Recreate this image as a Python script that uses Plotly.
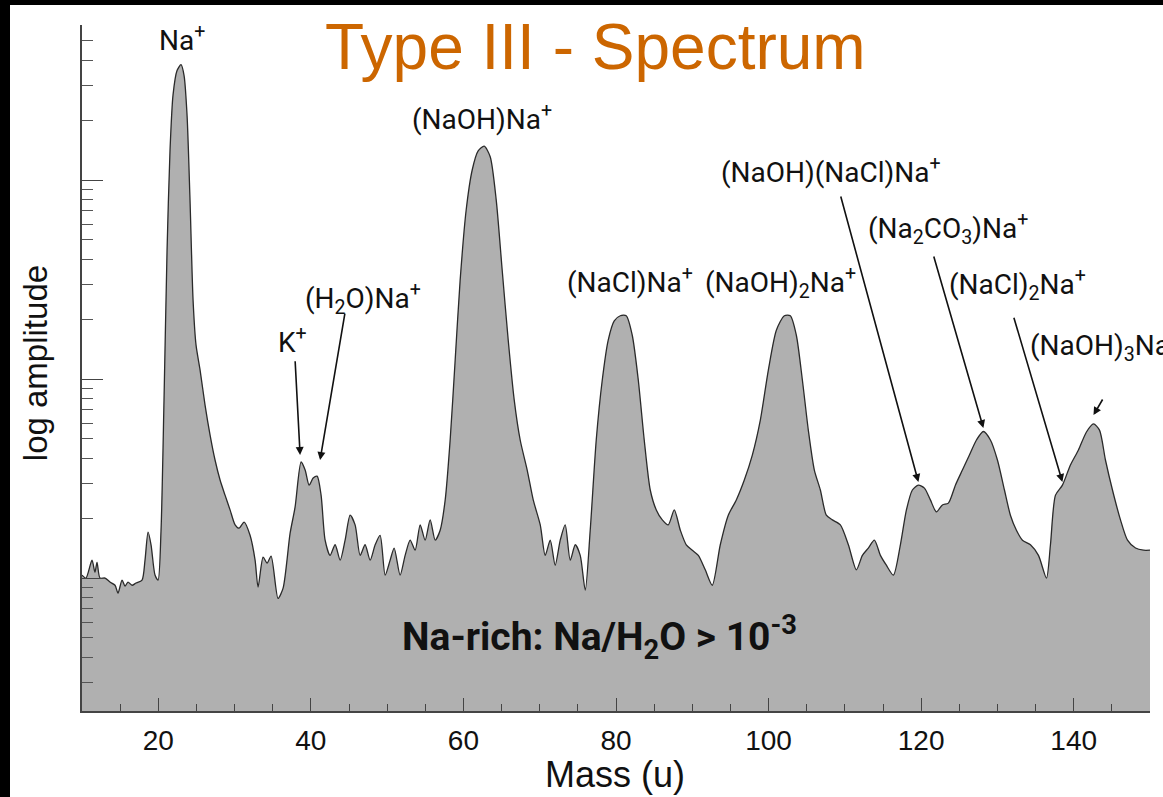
import numpy as np
import plotly.graph_objects as go

# ---------------- data ----------------
mass = [10.0, 10.52, 11.31, 11.70, 11.97, 12.36, 13.02, 13.67, 14.33, 14.72, 15.25, 15.64, 16.03, 16.56, 17.08, 17.87, 18.26, 18.66, 19.05, 19.57, 19.97,
        20.36, 20.75, 21.15, 21.54, 21.93, 22.46, 22.98, 23.38, 23.77, 24.16, 24.56, 24.95, 25.48, 26.13, 26.79, 27.44, 28.10, 28.75, 29.41, 30.07,
        30.59, 31.25, 32.03, 32.69, 33.08, 33.74, 34.26, 34.79, 35.70, 36.36, 37.28, 37.93, 38.72, 39.25, 39.77, 40.30, 40.82, 41.34, 41.87, 42.52,
        43.18, 43.84, 44.49, 45.15, 45.80, 46.46, 47.11, 47.77, 48.43, 49.08, 49.74, 50.39, 50.92, 51.70, 52.36, 53.02, 53.67, 54.33, 54.98, 55.64,
        56.30, 56.95,
        57.61, 58.26, 58.92, 59.57, 60.36, 61.15, 61.93, 62.72, 63.51, 64.30, 65.08, 65.87, 66.66, 67.44, 68.36, 69.15, 70.07, 70.72, 71.38, 72.03,
        72.69, 73.34, 74.0, 74.66, 75.31, 75.97,
        76.62, 77.41, 78.20, 78.98, 79.77, 80.56, 81.34, 82.13, 82.92, 83.70, 84.49, 85.28, 86.07, 86.85, 87.64, 88.43, 89.21, 90.0, 90.79, 91.70,
        92.62,
        93.67, 94.72, 95.77, 96.82, 97.87, 98.92, 99.97, 101.02, 102.07, 102.85, 103.64, 104.43, 105.21, 106.0, 106.79, 107.57, 108.36, 109.41,
        110.46, 111.51, 112.30, 113.08, 113.87, 114.66, 115.44, 116.36, 117.28, 118.07, 118.85, 119.64, 120.43, 121.21, 122.0, 122.79, 123.57,
        124.49, 125.41, 126.33, 127.25, 128.16, 129.08, 130.0, 130.92, 131.70, 132.49, 133.28, 134.33, 135.38, 136.43, 136.95, 137.61, 138.52,
        139.57, 140.62, 141.67, 142.59, 143.38, 144.16, 145.08, 146.13, 147.05, 148.10, 149.15, 150.0]

amplitude = [1.035, 1.0, 1.23, 1.07, 1.20, 1.0, 1.0, 0.955, 0.92, 0.84, 0.977, 0.91, 0.955, 0.92, 0.944, 0.977, 1.23, 1.70, 1.47, 1.035, 0.977,
             1.74, 7.84, 44.5, 141.5, 267, 355, 380, 335, 212, 79.3, 24.9, 14.8, 11.1, 7.40, 5.23, 3.92, 3.11, 2.61, 2.20, 1.85,
             1.78, 1.91, 1.64, 1.23, 0.90, 1.275, 1.19, 1.29, 0.79, 0.89, 1.68, 2.27, 3.83, 3.49, 2.93, 3.18, 3.25, 2.61, 1.55, 1.30,
             1.47, 1.23, 1.55, 2.07, 1.85, 1.30, 1.47, 1.23, 1.47, 1.64, 1.035, 1.23, 1.415, 1.035, 1.30, 1.55, 1.38, 1.85, 1.55, 1.96,
             1.55, 1.74,
             2.47, 4.94, 12.5, 31.4, 70.7, 112.3, 140, 148, 131, 79.3, 35.3, 15.7, 7.84, 4.94, 3.49, 2.47, 1.85, 1.30, 1.55, 1.16,
             1.55, 1.85, 1.23, 1.47, 1.30, 0.87,
             1.74, 4.94, 9.89, 15.7, 19.6, 20.8, 20.8, 16.6, 9.89, 4.94, 2.77, 2.20, 1.96, 1.85, 2.20, 1.74, 1.47, 1.38, 1.30, 1.10,
             0.92,
             1.47, 2.07, 2.47, 3.11, 4.15, 6.22, 11.1, 17.6, 20.8, 20.8, 16.6, 9.89, 5.54, 3.49, 2.77, 2.07, 1.96, 1.85,
             1.47, 1.10, 1.30, 1.415, 1.55, 1.30, 1.16, 1.035, 1.47, 2.20, 2.77, 2.93, 2.83, 2.47, 2.15, 2.33, 2.38,
             2.93, 3.49, 4.15, 4.94, 5.45, 4.94, 3.92, 2.77, 2.07, 1.74, 1.55, 1.47, 1.30, 1.0, 1.47, 2.61, 2.93,
             3.70, 4.40, 5.42, 5.95, 5.54, 3.92, 2.77, 1.96, 1.55, 1.415, 1.38, 1.38]

assert len(mass) == len(amplitude), (len(mass), len(amplitude))

# peak labels: text, mass, amplitude, x-anchor
label_text = ["Na<sup>+</sup>", "(NaOH)Na<sup>+</sup>", "(NaCl)Na<sup>+</sup>", "(NaOH)<sub>2</sub>Na<sup>+</sup>",
              "K<sup>+</sup>", "(H<sub>2</sub>O)Na<sup>+</sup>", "(NaOH)(NaCl)Na<sup>+</sup>",
              "(Na<sub>2</sub>CO<sub>3</sub>)Na<sup>+</sup>", "(NaCl)<sub>2</sub>Na<sup>+</sup>",
              "(NaOH)<sub>3</sub>Na<sup>+</sup>"]
label_mass = [23.11, 62.46, 81.87, 101.54, 37.54, 46.85, 108.23, 123.57, 132.62, 134.07]
label_amp = [517, 207, 31.4, 30.4, 15.7, 25.5, 112, 57.4, 30.0, 14.8]
label_anchor = ["center"] * 9 + ["left"]

# arrows: tip (mass, amp) and tail (mass, amp)
arrow_tip_mass = [38.59, 41.21, 119.64, 128.16, 138.52, 142.59]
arrow_tip_amp = [4.15, 3.92, 3.04, 5.67, 3.04, 6.59]
arrow_tail_mass = [37.93, 44.49, 109.41, 121.6, 132.1, 143.9]
arrow_tail_amp = [12.5, 21.7, 84.1, 42.0, 20.7, 8.03]

x_ticks = [20, 40, 60, 80, 100, 120, 140]

LABEL_FONT = "Roboto, Liberation Sans, sans-serif"
AX_FONT = "Liberation Sans, Arial, Helvetica, sans-serif"

fig = go.Figure()
fig.add_trace(go.Scatter(
    x=mass, y=amplitude, mode="lines", fill="tozeroy",
    fillcolor="#b0b0b0", line=dict(color="#2a2a2a", width=1.3, shape="spline", smoothing=0.7),
    hoverinfo="skip", showlegend=False))

annotations = []
for t, m, a, anc in zip(label_text, label_mass, label_amp, label_anchor):
    annotations.append(dict(x=m, y=np.log10(a), xref="x", yref="y", text=t, showarrow=False,
                            xanchor=anc, yanchor="middle",
                            font=dict(family=LABEL_FONT, size=28, color="#111111")))
for tm, ta, sm, sa in zip(arrow_tip_mass, arrow_tip_amp, arrow_tail_mass, arrow_tail_amp):
    annotations.append(dict(x=tm, y=np.log10(ta), xref="x", yref="y", ax=sm, ay=np.log10(sa),
                            axref="x", ayref="y", text="", showarrow=True,
                            arrowhead=2, arrowsize=1.0, arrowwidth=1.6, arrowcolor="#111111"))

# big inner label
annotations.append(dict(x=77.8, y=np.log10(0.50), xref="x", yref="y",
                        text="<b>Na-rich: Na/H<sub>2</sub>O &gt; 10<sup>-3</sup></b>", showarrow=False,
                        font=dict(family=LABEL_FONT, size=39, color="#111111")))
# title
annotations.append(dict(x=0.481, y=0.968, xref="paper", yref="paper", text="Type III - Spectrum",
                        showarrow=False, xanchor="center", yanchor="middle",
                        font=dict(family=AX_FONT, size=64, color="#cc6600")))
# axis titles
annotations.append(dict(x=0.499, y=-0.093, xref="paper", yref="paper", text="Mass (u)",
                        showarrow=False, xanchor="center", yanchor="middle",
                        font=dict(family=AX_FONT, size=36, color="#111111")))
annotations.append(dict(x=-0.044, y=0.507, xref="paper", yref="paper", text="log amplitude",
                        showarrow=False, textangle=-90, xanchor="center", yanchor="middle",
                        font=dict(family=AX_FONT, size=33, color="#111111")))

# figure placed 10 px from the left and 5 px from the top of a black page,
# which gives the black strips along the top and left edges of the picture
fig.update_layout(
    width=1153, height=792,
    margin=dict(l=72, r=13, t=20, b=86),
    paper_bgcolor="white", plot_bgcolor="white",
    annotations=annotations,
    xaxis=dict(range=[10, 150], tickvals=x_ticks, ticks="inside", ticklen=13, tickwidth=1.3,
               tickcolor="#444444", showline=True, linecolor="#444444", linewidth=1.6,
               showgrid=False, zeroline=False, ticklabelstandoff=4,
               tickfont=dict(family=AX_FONT, size=28, color="#111111"),
               minor=dict(dtick=5, tick0=0, ticks="inside", ticklen=7, tickwidth=1.3,
                          tickcolor="#444444", showgrid=False)),
    yaxis=dict(type="log", range=[-0.668, 2.779], dtick=1, ticks="inside", ticklen=21, tickwidth=1.3,
               tickcolor="#444444", showline=True, linecolor="#444444", linewidth=1.6,
               showgrid=False, zeroline=False, showticklabels=False,
               minor=dict(dtick="D1", ticks="inside", ticklen=11, tickwidth=1.3,
                          tickcolor="#555555", showgrid=False)),
)

fig.write_html(
    "out.html", config={"displayModeBar": False},
    post_script=("document.documentElement.style.background='black';"
                 "document.body.style.background='black';"
                 "document.body.style.margin='5px 0 0 10px';"
                 "document.body.style.overflow='hidden';"))
